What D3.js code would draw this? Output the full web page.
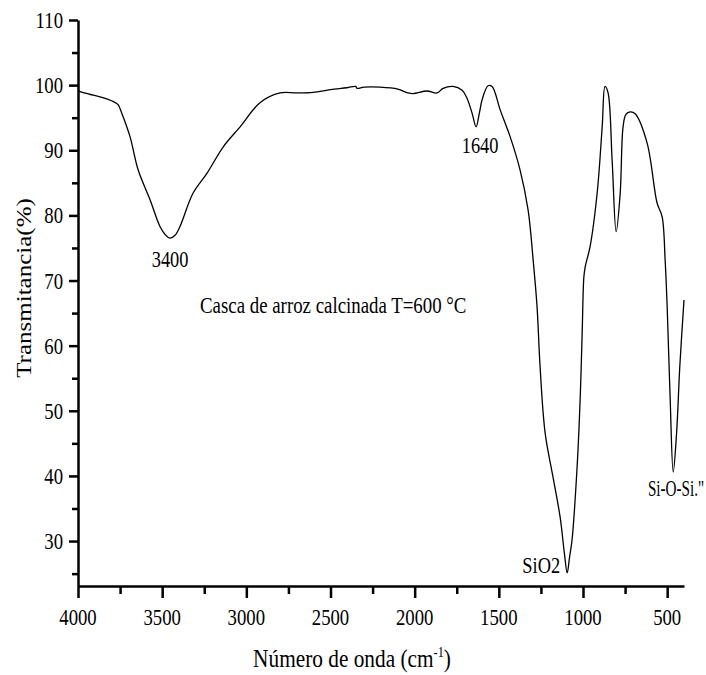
<!DOCTYPE html>
<html>
<head>
<meta charset="utf-8">
<script src="https://cdn.jsdelivr.net/npm/d3@7"></script>
<style>
body { margin: 0; background: #fff; }
text { font-family: "Liberation Serif", "Times New Roman", serif; fill: #000; }
</style>
</head>
<body>
<div id="chart"></div>
<script>
// FTIR spectrum, rice husk ash
var wavenumber = [4000, 3988, 3930, 3869, 3792, 3762, 3740, 3691, 3643, 3572, 3513, 3480, 3453, 3425, 3394,
    3317, 3233, 3138, 3037, 2919, 2800, 2700, 2604, 2500, 2402, 2350, 2342, 2300, 2206, 2100, 2040, 2009,
    1926, 1867, 1831, 1772, 1718, 1689, 1659, 1635, 1615, 1599, 1564, 1540, 1492, 1433, 1374, 1326, 1296,
    1273, 1255, 1225, 1178, 1136, 1110, 1094, 1080, 1065, 1035, 1017, 1005, 995, 987, 958, 916, 886, 869,
    851, 827, 803, 779, 762, 745, 720, 690, 619, 560, 530, 512, 500, 482, 464, 444, 425, 400];
var transmittance = [99.2, 99.0, 98.6, 98.2, 97.5, 97.0, 95.7, 92.1, 87.0, 82.4, 78.3, 77.0, 76.5, 76.9, 78.3,
    83.4, 86.5, 90.5, 93.6, 97.3, 98.8, 98.8, 98.9, 99.3, 99.6, 99.8, 99.5, 99.7, 99.7, 99.4, 98.8, 98.7,
    99.1, 98.8, 99.5, 99.8, 99.2, 98.0, 95.7, 93.6, 95.8, 97.8, 99.9, 99.8, 96.2, 92.1, 87.0, 80.8, 73.1,
    66.0, 56.8, 46.6, 39.8, 33.7, 28.0, 25.1, 27.5, 30.2, 41.4, 51.7, 61.9, 70.5, 72.1, 75.2, 83.4, 93.6, 99.8,
    98.8, 88.5, 77.5, 83.4, 93.6, 95.5, 95.9, 95.6, 91.1, 81.9, 79.8, 73.1, 66.0, 51.7, 40.6, 46.6, 56.8, 67.0];

var yMajor = [30, 40, 50, 60, 70, 80, 90, 100, 110];
var yMinor = [25, 35, 45, 55, 65, 75, 85, 95, 105];
var xMajor = [4000, 3500, 3000, 2500, 2000, 1500, 1000, 500];
var xMinor = [3750, 3250, 2750, 2250, 1750, 1250, 750];

var annotText = ["3400", "1640", "SiO2", "Si-O-Si.\"", "Casca de arroz calcinada T=600 °C"];
var annotWn = [3453, 1635, 1094, 464, 3275];
var annotT = [76.5, 93.6, 25.1, 40.6, 65.0];

var svg = d3.select("#chart").append("svg").attr("width", 706).attr("height", 675),
    margin = {top: 20, right: 22, bottom: 89, left: 78},
    width = 706 - margin.left - margin.right,
    height = 675 - margin.top - margin.bottom;

var x = d3.scaleLinear().domain([4000, 400]).range([0, width]);
var y = d3.scaleLinear().domain([23.1, 110]).range([height, 0]);

var g = svg.append("g")
    .attr("transform", "translate(" + margin.left + "," + margin.top + ")");

// condensed serif text
function label(parent, px, py, str, size, anchor, sx) {
    return parent.append("text")
        .attr("transform", "translate(" + px + "," + py + ") scale(" + sx + ",1)")
        .attr("text-anchor", anchor)
        .style("font-size", size + "px")
        .text(str);
}

// axes: minor ticks first, then major ticks + domain
g.append("g")
    .attr("transform", "translate(0," + height + ")")
    .call(d3.axisBottom(x).tickValues(xMinor).tickSize(8).tickSizeOuter(0).tickFormat(""))
    .call(function (a) { a.select(".domain").remove(); });
g.append("g")
    .call(d3.axisLeft(y).tickValues(yMinor).tickSize(6).tickSizeOuter(0).tickFormat(""))
    .call(function (a) { a.select(".domain").remove(); });

g.append("g")
    .attr("transform", "translate(0," + height + ")")
    .call(d3.axisBottom(x).tickValues(xMajor).tickSize(12).tickSizeOuter(0).tickFormat(""));
g.append("g")
    .call(d3.axisLeft(y).tickValues(yMajor).tickSize(9).tickSizeOuter(0).tickFormat(""));

g.selectAll(".tick line").attr("stroke", "#000").attr("stroke-width", 2.5);
g.selectAll(".domain").attr("stroke", "#000").attr("stroke-width", 2.5);

xMajor.forEach(function (v) {
    label(g, x(v), height + 39, v, 24, "middle", 0.78);
});
yMajor.forEach(function (v) {
    label(g, -15, y(v) + 8, v, 24, "end", 0.78);
});

// spectrum
var pts = wavenumber.map(function (w, i) { return [w, transmittance[i]]; });
var line = d3.line()
    .x(function (d) { return x(d[0]); })
    .y(function (d) { return y(d[1]); })
    .curve(d3.curveCatmullRom.alpha(0.5));

g.append("path")
    .datum(pts)
    .attr("fill", "none")
    .attr("stroke", "#000")
    .attr("stroke-width", 1.3)
    .attr("d", line);

// annotations: [dx, dy, anchor, condense]
var offs = [[0, 29, "middle", 0.8], [4, 26, "middle", 0.8], [-7, 0, "end", 0.8],
    [31, 24, "end", 0.66], [0, 0, "start", 0.82]];
annotText.forEach(function (t, i) {
    label(g, x(annotWn[i]) + offs[i][0], y(annotT[i]) + offs[i][1], t, 23, offs[i][2], offs[i][3]);
});

// axis titles
var xt = svg.append("text")
    .attr("transform", "translate(352,667) scale(0.82,1)")
    .attr("text-anchor", "middle")
    .style("font-size", "26px");
xt.append("tspan").text("Número de onda (cm");
xt.append("tspan").attr("dy", -10).style("font-size", "15px").text("-1");
xt.append("tspan").attr("dy", 10).text(")");

svg.append("text")
    .attr("transform", "translate(31,288) rotate(-90) scale(1,0.82)")
    .attr("text-anchor", "middle")
    .style("font-size", "25px")
    .text("Transmitancia(%)");
</script>
</body>
</html>
